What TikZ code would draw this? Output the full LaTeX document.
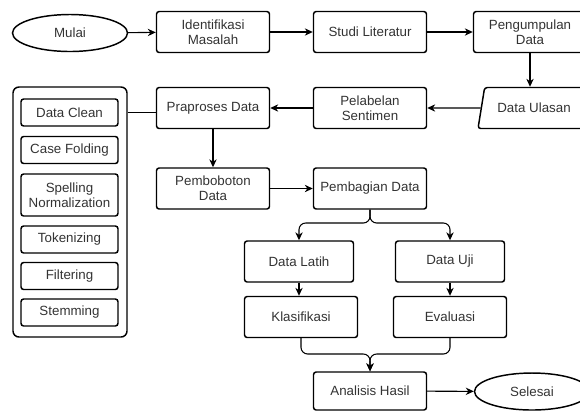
\documentclass[tikz,border=0pt]{standalone}
\usepackage{fontspec}
\setmainfont{Liberation Sans}
\usetikzlibrary{shapes.geometric,arrows.meta}

\tikzset{
  box/.style={draw, rounded corners=2pt, line width=1.1pt, minimum width=84.75pt,
    minimum height=30.75pt, align=center, inner sep=1pt, text=black!80},
  subbox/.style={box, minimum width=72.75pt, minimum height=20.25pt},
  term/.style={draw, ellipse, line width=1.1pt, minimum width=86.25pt,
    minimum height=27.75pt, inner sep=0pt, text=black!80},
  io/.style={draw, trapezium, trapezium left angle=62, trapezium right angle=118,
    trapezium stretches body, rounded corners=2pt, line width=1.1pt,
    minimum width=84pt, minimum height=30.75pt, inner sep=1pt, text=black!80},
  group/.style={draw, rounded corners=4.5pt, line width=1.1pt,
    minimum width=85.5pt, minimum height=187.5pt},
  arr/.style={-{Stealth[length=6pt,width=5.5pt]}, line width=0.8pt},
  link/.style={line width=0.8pt}
}

\begin{document}
\begin{tikzpicture}[x=0.75pt, y=-0.75pt, font=\fontsize{10}{11.5}\selectfont]
  \clip (0,0) rectangle (580,412);

  % baris atas
  \node[term] (mulai) at (70,33) {Mulai};
  \node[box] (identifikasi) at (213,32) {Identifikasi\\Masalah};
  \node[box] (studi) at (370,32) {Studi Literatur};
  \node[box] (pengumpulan) at (530,32) {Pengumpulan\\Data};

  \node[io] (ulasan) at (534,108) {Data Ulasan};
  \node[box] (pelabelan) at (370,108) {Pelabelan\\Sentimen};
  \node[box] (praproses) at (213,108) {Praproses Data};

  % tahap praproses
  \node[group] (tahap) at (70,212) {};
  \node[subbox] (clean) at (69.5,112.5) {Data Clean};
  \node[subbox] (folding) at (69.5,150) {Case Folding};
  \node[subbox, minimum height=31.5pt] (spelling) at (69.5,195) {Spelling\\Normalization};
  \node[subbox] (token) at (69.5,239.5) {Tokenizing};
  \node[subbox] (filter) at (69.5,276) {Filtering};
  \node[subbox] (stem) at (69.5,312.5) {Stemming};

  \node[box] (bobot) at (213,188.5) {Pemboboton\\Data};
  \node[box] (bagi) at (370,188.5) {Pembagian Data};

  \node[box, minimum width=81.75pt] (latih) at (299,261.5) {Data Latih};
  \node[box, minimum width=81.75pt] (uji) at (450,261.5) {Data Uji};
  \node[box] (klasifikasi) at (301,317) {Klasifikasi};
  \node[box] (evaluasi) at (450,317) {Evaluasi};

  \node[box, minimum height=28.5pt] (analisis) at (370,391) {Analisis Hasil};
  \node[term] (selesai) at (532,391.5) {Selesai};

  \coordinate (pisah) at (370,223);
  \coordinate (gabung) at (370,354);

  % alur
  \draw[arr] (mulai) -- (identifikasi);
  \draw[arr] (identifikasi) -- (studi);
  \draw[arr] (studi) -- (pengumpulan);
  \draw[arr] (pengumpulan) -- (pengumpulan |- ulasan.north);
  \draw[arr] (ulasan.west) -- (pelabelan);
  \draw[arr] (pelabelan) -- (praproses);
  \draw[link] (tahap.east |- clean) -- (praproses.west |- clean);
  \draw[arr] (praproses) -- (bobot);
  \draw[arr] (bobot) -- (bagi);
  \draw[arr, rounded corners=5pt] (bagi.south) -- (pisah) -| (latih.north);
  \draw[arr, rounded corners=5pt] (bagi.south) -- (pisah) -| (uji.north);
  \draw[arr] (latih) -- (latih |- klasifikasi.north);
  \draw[arr] (uji) -- (evaluasi);
  \draw[arr, rounded corners=5pt] (klasifikasi.south) |- (gabung) -- (analisis.north);
  \draw[arr, rounded corners=5pt] (evaluasi.south) |- (gabung) -- (analisis.north);
  \draw[arr] (analisis) -- (selesai);
\end{tikzpicture}
\end{document}
